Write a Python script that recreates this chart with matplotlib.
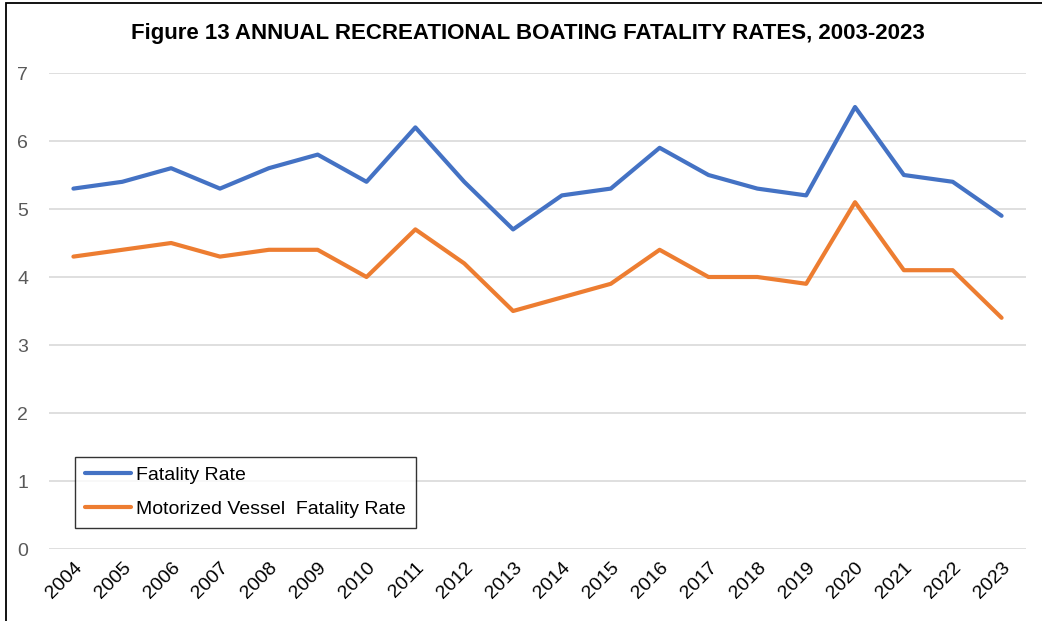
import matplotlib
matplotlib.use("Agg")
import matplotlib.pyplot as plt
from matplotlib.patches import Rectangle

years = [str(y) for y in range(2004, 2024)]
fatality_rate = [5.3, 5.4, 5.6, 5.3, 5.6, 5.8, 5.4, 6.2, 5.4, 4.7,
                 5.2, 5.3, 5.9, 5.5, 5.3, 5.2, 6.5, 5.5, 5.4, 4.9]
motorized_rate = [4.3, 4.4, 4.5, 4.3, 4.4, 4.4, 4.0, 4.7, 4.2, 3.5,
                  3.7, 3.9, 4.4, 4.0, 4.0, 3.9, 5.1, 4.1, 4.1, 3.4]
yticks = [0, 1, 2, 3, 4, 5, 6, 7]

plt.rcParams['font.family'] = ['Liberation Sans', 'DejaVu Sans']

fig = plt.figure(figsize=(10.42, 6.21), dpi=100)
ax = fig.add_axes([49/1042, 1-549/621, (1026-49)/1042, (549-73)/621])

x = list(range(len(years)))
ax.plot(x, fatality_rate, color='#4472C4', lw=3.0, label='Fatality Rate',
        solid_capstyle='round', solid_joinstyle='round')
ax.plot(x, motorized_rate, color='#ED7D31', lw=3.0,
        label='Motorized Vessel  Fatality Rate',
        solid_capstyle='round', solid_joinstyle='round')

ax.set_xlim(-0.5, len(years) - 0.5)
ax.set_ylim(0, 7)
ax.set_yticks(yticks)
ax.set_yticklabels([str(v) for v in yticks])
ax.set_xticks(x)
ax.set_xticklabels(years, rotation=45, ha='right', rotation_mode='anchor')
ax.tick_params(axis='y', length=0, pad=15, labelsize=14, labelcolor='#595959')
ax.tick_params(axis='x', length=0, pad=7, labelsize=14, labelcolor='#000000')
ax.grid(axis='y', color='#D9D9D9', lw=1.2)
ax.set_axisbelow(True)
for s in ax.spines.values():
    s.set_visible(False)

leg = ax.legend(loc='lower left', bbox_to_anchor=((75-49)/977, (549-528)/476),
                fontsize=14, frameon=True, fancybox=False, edgecolor='#000000',
                handlelength=2.4, handletextpad=0.25, borderpad=0.5,
                labelspacing=0.85, borderaxespad=0)
leg.get_frame().set_linewidth(1.0)

fig.text(528/1042, 1-33/621, 'Figure 13 ANNUAL RECREATIONAL BOATING FATALITY RATES, 2003-2023',
         ha='center', va='center', fontsize=16, fontweight='bold')

# partial border of the original figure frame
fig.patches.append(Rectangle((6/1042, -0.1), 1.2, 1.1 - 3/621, transform=fig.transFigure,
                             fill=False, edgecolor='#000000', lw=1.3))

fig.savefig('out.png', dpi=100)
